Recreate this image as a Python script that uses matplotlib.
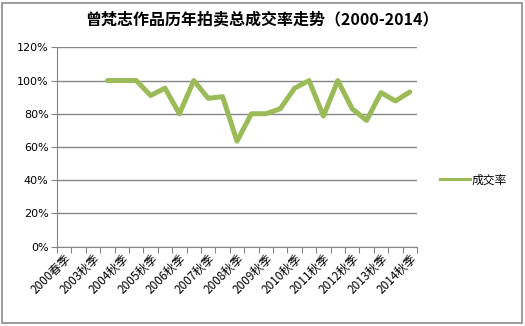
import matplotlib
matplotlib.use("Agg")
import matplotlib.pyplot as plt
import numpy as np
from matplotlib.patches import Rectangle
from matplotlib.lines import Line2D

plt.rcParams['font.family'] = ['Noto Sans CJK SC', 'DejaVu Sans']

categories = ['2000春季', '2003春季', '2003秋季', '2004春季', '2004秋季', '2005春季', '2005秋季',
              '2006春季', '2006秋季', '2007春季', '2007秋季', '2008春季', '2008秋季',
              '2009春季', '2009秋季', '2010春季', '2010秋季', '2011春季', '2011秋季',
              '2012春季', '2012秋季', '2013春季', '2013秋季', '2014春季', '2014秋季']
rate = [None, None, None, 100, 100, 100, 91, 95.4, 80, 100, 89.3, 90.3, 63.5,
        80, 80, 83, 95.4, 100, 78.6, 100, 83, 76, 92.7, 87.7, 93.1]
y_ticks = [0, 20, 40, 60, 80, 100, 120]
title = '曾梵志作品历年拍卖总成交率走势（2000-2014）'
series_name = '成交率'
green = '#9BBB59'

fig = plt.figure(figsize=(5.25, 3.26), dpi=100)
fig.patches.append(Rectangle((2/525, 3/326), 520/525, 320/326, transform=fig.transFigure,
                             fill=False, edgecolor='#8c8c8c', lw=1.2))
ax = fig.add_axes([57/525, 1 - 246.7/326, 360/525, 199.4/326])

x = np.arange(len(categories))
y = np.array([np.nan if v is None else v for v in rate], dtype=float)
ax.plot(x, y, color=green, lw=3.6, solid_joinstyle='round', solid_capstyle='round')

ax.set_xlim(-0.5, len(categories) - 0.5)
ax.set_ylim(0, 120)
ax.set_yticks(y_ticks)
ax.set_yticklabels([f'{t}%' for t in y_ticks], fontsize=8, family=['DejaVu Sans'])
ax.yaxis.grid(True, color='#868686', lw=1)
ax.set_axisbelow(True)

ax.set_xticks(np.arange(len(categories) + 1) - 0.5)
ax.set_xticklabels([])
ax.tick_params(axis='x', which='major', direction='out', length=4, color='#868686')
ax.set_xticks(x[::2], minor=True)
ax.set_xticklabels(categories[::2], minor=True, rotation=45, ha='right', va='top',
                   rotation_mode='anchor', fontsize=8.5)
ax.tick_params(axis='x', which='minor', length=0, pad=4)
ax.tick_params(axis='y', direction='out', length=4, color='#868686', pad=2)

for s in ['top', 'right']:
    ax.spines[s].set_visible(False)
for s in ['left', 'bottom']:
    ax.spines[s].set_color('#868686')

fig.text(262/525, 1 - 19/326, title, ha='center', va='center', fontsize=11.5, fontweight='bold')

handle = Line2D([], [], color=green, lw=2.2)
fig.legend(handles=[handle], labels=[series_name], loc='center left',
           bbox_to_anchor=(429/525, 1 - 180/326), frameon=False, fontsize=8.5,
           handlelength=2.6, handletextpad=0.1)

fig.savefig('out.png', dpi=100)
